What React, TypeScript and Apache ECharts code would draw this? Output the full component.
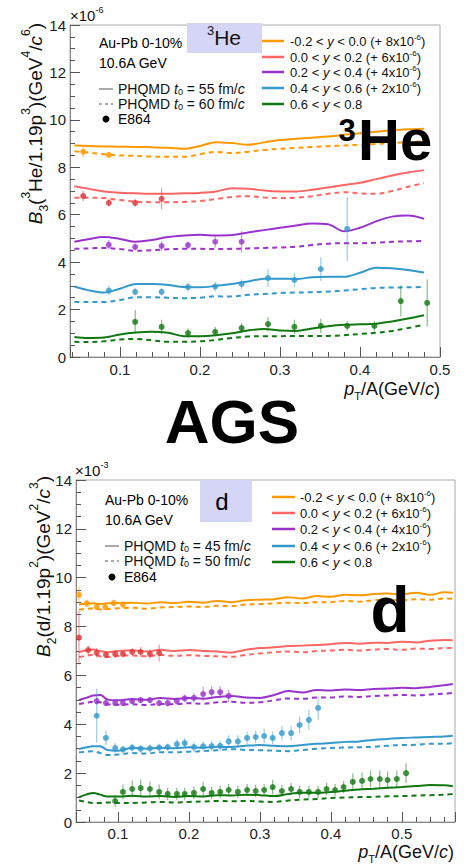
import React, { useEffect, useRef } from "react";
import * as echarts from "echarts";

const FONT = "'Liberation Sans', Arial, Helvetica, sans-serif";
const LINE_COLORS = ["#ff9900", "#ff6666", "#9933cc", "#3399cc", "#117711"];
const DATA_COLORS = ["#ff9900", "#dd3333", "#9933cc", "#3399cc", "#117711"];
const RAP_LABELS = ["-0.2 < ", "0.0 < ", "0.2 < ", "0.4 < ", "0.6 < "];
const RAP_UPPER = [" < 0.0 (+ 8x10", " < 0.2 (+ 6x10", " < 0.4 (+ 4x10", " < 0.6 (+ 2x10", " < 0.8"];
const Y_TICKS_MAX = 14;

// ---------- Top panel: 3He (B3, x10^-6) ----------
const HE_MODEL_X = [0.043, 0.06, 0.08, 0.1, 0.12, 0.14, 0.16, 0.18, 0.2, 0.22, 0.24, 0.26, 0.28, 0.3, 0.32, 0.34, 0.36, 0.38, 0.4, 0.42, 0.44, 0.46, 0.48];
const HE_SOLID_ORANGE = [8.92, 8.9, 8.88, 8.87, 8.86, 8.84, 8.82, 8.78, 8.9, 9.06, 9.02, 8.95, 9.05, 9.15, 9.2, 9.25, 9.3, 9.37, 9.44, 9.5, 9.55, 9.6, 9.63];
const HE_DASH_ORANGE = [8.68, 8.62, 8.55, 8.5, 8.48, 8.45, 8.44, 8.44, 8.55, 8.65, 8.6, 8.66, 8.73, 8.78, 8.82, 8.86, 8.89, 8.92, 8.95, 8.98, 9.02, 9.06, 9.1];
const HE_SOLID_RED = [7.2, 7.1, 6.98, 6.93, 6.9, 6.88, 6.88, 6.9, 6.92, 6.98, 7.12, 7.1, 7.02, 6.98, 6.98, 7.05, 7.15, 7.25, 7.35, 7.5, 7.65, 7.78, 7.88];
const HE_DASH_RED = [6.72, 6.72, 6.7, 6.62, 6.55, 6.53, 6.53, 6.54, 6.58, 6.66, 6.75, 6.78, 6.73, 6.7, 6.72, 6.78, 6.88, 6.95, 6.9, 6.88, 7.0, 7.18, 7.33];
const HE_SOLID_PURPLE = [4.86, 4.97, 5.06, 4.98, 4.86, 4.93, 5.06, 5.12, 5.15, 5.12, 5.14, 5.25, 5.35, 5.45, 5.55, 5.63, 5.6, 5.3, 5.45, 5.72, 5.92, 5.97, 5.83];
const HE_DASH_PURPLE = [4.56, 4.58, 4.6, 4.55, 4.48, 4.5, 4.54, 4.56, 4.56, 4.55, 4.56, 4.58, 4.6, 4.62, 4.65, 4.72, 4.78, 4.8, 4.8, 4.82, 4.86, 4.88, 4.89];
const HE_SOLID_BLUE = [2.97, 2.82, 2.72, 2.88, 3.08, 3.08, 3.04, 2.95, 2.94, 3.0, 3.08, 3.18, 3.3, 3.3, 3.29, 3.36, 3.38, 3.38, 3.55, 3.76, 3.74, 3.67, 3.56];
const HE_DASH_BLUE = [2.32, 2.32, 2.32, 2.4, 2.52, 2.52, 2.5, 2.48, 2.5, 2.56, 2.55, 2.62, 2.66, 2.7, 2.72, 2.73, 2.76, 2.8, 2.86, 2.91, 2.93, 2.94, 2.95];
const HE_SOLID_GREEN = [0.84, 0.8, 0.82, 0.95, 1.03, 1.06, 1.02, 0.88, 0.88, 0.92, 1.0, 1.12, 1.18, 1.12, 1.1, 1.2, 1.3, 1.36, 1.38, 1.4, 1.5, 1.62, 1.76];
const HE_DASH_GREEN = [0.64, 0.63, 0.66, 0.74, 0.76, 0.7, 0.64, 0.64, 0.66, 0.72, 0.8, 0.86, 0.88, 0.88, 0.89, 0.89, 0.89, 0.92, 0.97, 1.02, 1.1, 1.22, 1.36];

const HE_ORANGE_X = [0.054, 0.086];
const HE_ORANGE_Y = [8.65, 8.52];
const HE_ORANGE_ERR = [0.25, 0.1];
const HE_RED_X = [0.054, 0.086, 0.119, 0.152];
const HE_RED_Y = [6.79, 6.5, 6.5, 6.67];
const HE_RED_ERR = [0.22, 0.15, 0.15, 0.45];
const HE_PURPLE_X = [0.086, 0.119, 0.152, 0.185, 0.219, 0.252];
const HE_PURPLE_Y = [4.73, 4.64, 4.68, 4.72, 4.86, 4.86];
const HE_PURPLE_ERR = [0.2, 0.15, 0.2, 0.15, 0.25, 0.45];
const HE_BLUE_X = [0.086, 0.119, 0.152, 0.185, 0.219, 0.252, 0.285, 0.318, 0.351, 0.384];
const HE_BLUE_Y = [2.8, 2.75, 2.75, 2.95, 2.97, 3.08, 3.33, 3.25, 3.71, 5.4];
const HE_BLUE_ERR = [0.2, 0.15, 0.15, 0.2, 0.2, 0.2, 0.38, 0.3, 0.5, 1.35];
const HE_GREEN_X = [0.119, 0.152, 0.185, 0.219, 0.252, 0.285, 0.318, 0.351, 0.384, 0.418, 0.451, 0.484];
const HE_GREEN_Y = [1.48, 1.27, 1.01, 1.06, 1.22, 1.39, 1.27, 1.31, 1.31, 1.31, 2.36, 2.28];
const HE_GREEN_ERR = [0.5, 0.3, 0.2, 0.2, 0.2, 0.3, 0.3, 0.3, 0.2, 0.2, 0.65, 1.0];

// ---------- Bottom panel: d (B2, x10^-3) ----------
const D_MODEL_X = [0.045, 0.055, 0.065, 0.075, 0.085, 0.1, 0.12, 0.14, 0.16, 0.18, 0.2, 0.22, 0.24, 0.26, 0.28, 0.3, 0.32, 0.34, 0.36, 0.38, 0.4, 0.42, 0.44, 0.46, 0.48, 0.5, 0.52, 0.54, 0.56, 0.572];
const D_SOLID_ORANGE = [8.9, 8.93, 8.95, 8.92, 8.95, 8.96, 8.98, 8.94, 9.0, 8.96, 9.02, 8.98, 9.05, 9.0, 9.08, 9.1, 9.12, 9.2, 9.15, 9.25, 9.22, 9.3, 9.28, 9.33, 9.35, 9.32, 9.38, 9.3, 9.4, 9.38];
const D_DASH_ORANGE = [8.7, 8.72, 8.75, 8.7, 8.72, 8.75, 8.77, 8.73, 8.78, 8.8, 8.82, 8.8, 8.85, 8.84, 8.9, 8.92, 8.95, 8.98, 8.96, 9.0, 9.0, 9.05, 9.02, 9.08, 9.1, 9.07, 9.12, 9.1, 9.15, 9.14];
const D_SOLID_RED = [6.96, 7.02, 7.06, 7.0, 6.95, 7.0, 7.03, 6.98, 7.05, 7.0, 7.04, 7.0, 6.98, 6.94, 7.05, 7.12, 7.15, 7.2, 7.22, 7.25, 7.28, 7.33, 7.3, 7.34, 7.33, 7.38, 7.35, 7.42, 7.45, 7.44];
const D_DASH_RED = [6.75, 6.8, 6.85, 6.78, 6.75, 6.8, 6.82, 6.78, 6.84, 6.8, 6.83, 6.8, 6.78, 6.76, 6.84, 6.9, 6.95, 6.98, 6.95, 7.0, 7.02, 7.05, 7.02, 7.06, 7.08, 7.05, 7.1, 7.08, 7.12, 7.12];
const D_SOLID_PURPLE = [5.0, 5.08, 5.18, 5.2, 5.02, 4.98, 5.03, 5.0, 5.08, 5.04, 5.08, 5.05, 5.12, 5.16, 5.1, 5.08, 5.2, 5.36, 5.3, 5.4, 5.38, 5.42, 5.4, 5.44, 5.46, 5.5, 5.48, 5.53, 5.6, 5.65];
const D_DASH_PURPLE = [4.83, 4.88, 4.92, 4.9, 4.82, 4.8, 4.82, 4.79, 4.83, 4.82, 4.86, 4.84, 4.9, 4.92, 4.88, 4.9, 4.98, 5.06, 5.04, 5.1, 5.1, 5.14, 5.12, 5.16, 5.18, 5.2, 5.18, 5.22, 5.25, 5.28];
const D_SOLID_BLUE = [2.99, 3.05, 3.1, 3.1, 2.95, 2.92, 3.03, 3.0, 3.04, 3.02, 3.06, 3.04, 3.08, 3.07, 3.12, 3.15, 3.12, 3.1, 3.15, 3.2, 3.23, 3.28, 3.3, 3.36, 3.4, 3.44, 3.46, 3.48, 3.5, 3.53];
const D_DASH_BLUE = [2.85, 2.88, 2.9, 2.82, 2.74, 2.76, 2.82, 2.8, 2.86, 2.85, 2.88, 2.9, 2.94, 2.98, 2.95, 2.94, 2.92, 2.9, 2.95, 3.0, 3.03, 3.05, 3.06, 3.08, 3.12, 3.15, 3.16, 3.2, 3.2, 3.23];
const D_SOLID_GREEN = [1.02, 1.12, 1.19, 1.12, 1.04, 1.04, 1.07, 1.04, 1.06, 1.02, 1.06, 1.04, 1.1, 1.08, 1.12, 1.1, 1.06, 1.15, 1.2, 1.2, 1.23, 1.28, 1.33, 1.36, 1.4, 1.43, 1.47, 1.51, 1.5, 1.46];
const D_DASH_GREEN = [0.88, 0.82, 0.78, 0.78, 0.8, 0.78, 0.78, 0.8, 0.82, 0.8, 0.82, 0.84, 0.86, 0.85, 0.86, 0.84, 0.82, 0.88, 0.92, 0.94, 0.98, 1.0, 1.02, 1.03, 1.05, 1.06, 1.08, 1.1, 1.12, 1.15];

const D_ORANGE_X = [0.045, 0.056, 0.07, 0.082, 0.094, 0.107];
const D_ORANGE_Y = [9.3, 8.95, 8.8, 8.8, 8.96, 8.9];
const D_ORANGE_ERR = [0.35, 0.15, 0.12, 0.12, 0.15, 0.15];
const D_RED_X = [0.045, 0.058, 0.07, 0.083, 0.096, 0.107, 0.12, 0.132, 0.145, 0.158];
const D_RED_Y = [7.55, 7.04, 6.92, 6.84, 6.88, 6.88, 6.96, 6.96, 6.88, 6.92];
const D_RED_ERR = [1.1, 0.2, 0.2, 0.15, 0.15, 0.15, 0.15, 0.2, 0.2, 0.35];
const D_PURPLE_X = [0.07, 0.083, 0.096, 0.107, 0.12, 0.132, 0.145, 0.158, 0.17, 0.183, 0.194, 0.207, 0.22, 0.232, 0.244, 0.256];
const D_PURPLE_Y = [4.95, 4.87, 4.87, 4.87, 4.95, 4.99, 4.99, 4.87, 4.87, 4.95, 5.06, 5.08, 5.24, 5.32, 5.32, 5.16];
const D_PURPLE_ERR = [0.15, 0.12, 0.12, 0.12, 0.12, 0.12, 0.12, 0.12, 0.15, 0.15, 0.15, 0.2, 0.3, 0.25, 0.25, 0.25];
const D_BLUE_X = [0.07, 0.083, 0.096, 0.107, 0.12, 0.132, 0.145, 0.158, 0.17, 0.183, 0.194, 0.207, 0.22, 0.232, 0.244, 0.256, 0.269, 0.282, 0.294, 0.306, 0.318, 0.331, 0.344, 0.356, 0.369, 0.382];
const D_BLUE_Y = [4.35, 3.44, 3.03, 2.97, 3.05, 3.0, 3.02, 3.05, 3.07, 3.19, 3.23, 3.07, 3.1, 3.11, 3.12, 3.3, 3.3, 3.44, 3.48, 3.52, 3.44, 3.64, 3.64, 3.97, 4.18, 4.67];
const D_BLUE_ERR = [1.1, 0.3, 0.2, 0.15, 0.15, 0.15, 0.15, 0.15, 0.15, 0.2, 0.2, 0.2, 0.2, 0.2, 0.2, 0.25, 0.25, 0.25, 0.25, 0.3, 0.25, 0.3, 0.3, 0.35, 0.4, 0.48];
const D_GREEN_X = [0.096, 0.107, 0.12, 0.132, 0.145, 0.158, 0.17, 0.183, 0.194, 0.207, 0.22, 0.232, 0.244, 0.256, 0.269, 0.282, 0.294, 0.306, 0.318, 0.331, 0.344, 0.356, 0.369, 0.382, 0.394, 0.406, 0.418, 0.431, 0.444, 0.456, 0.469, 0.48, 0.493, 0.506];
const D_GREEN_Y = [0.86, 1.23, 1.35, 1.39, 1.35, 1.23, 1.15, 1.15, 1.15, 1.19, 1.35, 1.19, 1.23, 1.31, 1.23, 1.31, 1.27, 1.31, 1.43, 1.27, 1.35, 1.23, 1.23, 1.23, 1.35, 1.31, 1.43, 1.64, 1.68, 1.76, 1.76, 1.72, 1.76, 2.0];
const D_GREEN_ERR = [0.25, 0.3, 0.35, 0.35, 0.3, 0.3, 0.25, 0.25, 0.25, 0.25, 0.3, 0.25, 0.25, 0.25, 0.25, 0.25, 0.25, 0.25, 0.3, 0.25, 0.25, 0.25, 0.25, 0.25, 0.25, 0.25, 0.25, 0.35, 0.35, 0.35, 0.35, 0.35, 0.35, 0.4];

const HE_SOLID = [HE_SOLID_ORANGE, HE_SOLID_RED, HE_SOLID_PURPLE, HE_SOLID_BLUE, HE_SOLID_GREEN];
const HE_DASH = [HE_DASH_ORANGE, HE_DASH_RED, HE_DASH_PURPLE, HE_DASH_BLUE, HE_DASH_GREEN];
const HE_PTS = [
  [HE_ORANGE_X, HE_ORANGE_Y, HE_ORANGE_ERR],
  [HE_RED_X, HE_RED_Y, HE_RED_ERR],
  [HE_PURPLE_X, HE_PURPLE_Y, HE_PURPLE_ERR],
  [HE_BLUE_X, HE_BLUE_Y, HE_BLUE_ERR],
  [HE_GREEN_X, HE_GREEN_Y, HE_GREEN_ERR],
];
const D_SOLID = [D_SOLID_ORANGE, D_SOLID_RED, D_SOLID_PURPLE, D_SOLID_BLUE, D_SOLID_GREEN];
const D_DASH = [D_DASH_ORANGE, D_DASH_RED, D_DASH_PURPLE, D_DASH_BLUE, D_DASH_GREEN];
const D_PTS = [
  [D_ORANGE_X, D_ORANGE_Y, D_ORANGE_ERR],
  [D_RED_X, D_RED_Y, D_RED_ERR],
  [D_PURPLE_X, D_PURPLE_Y, D_PURPLE_ERR],
  [D_BLUE_X, D_BLUE_Y, D_BLUE_ERR],
  [D_GREEN_X, D_GREEN_Y, D_GREEN_ERR],
];

function richStyles(F: number, lhFactor = 1.6, color = "#111") {
  const lh = Math.round(F * lhFactor);
  const s = Math.round(F * 0.62);
  return {
    n: { fontSize: F, fontFamily: FONT, fill: color, color, lineHeight: lh },
    i: { fontSize: F, fontFamily: FONT, fontStyle: "italic", fill: color, color, lineHeight: lh },
    sup: { fontSize: s, fontFamily: FONT, fill: color, color, verticalAlign: "top", lineHeight: s + 1 },
    sub: { fontSize: s, fontFamily: FONT, fill: color, color, verticalAlign: "bottom", lineHeight: s + 1 },
  };
}

function rtext(x: number, y: number, text: string, F: number, align = "left", extra: any = {}, lhFactor = 1.6) {
  return {
    type: "text",
    x,
    y,
    z: 100,
    ...extra,
    style: { text, rich: richStyles(F, lhFactor), align, verticalAlign: "middle", fill: "#111" },
  };
}

function plainText(x: number, y: number, text: string, F: number, weight = "normal", align = "left", vAlign = "middle", lineHeight?: number) {
  const style: any = { text, fontSize: F, fontFamily: FONT, fontWeight: weight, fill: "#000", align, verticalAlign: vAlign };
  if (lineHeight) style.lineHeight = lineHeight;
  return { type: "text", x, y, z: 100, style };
}

function makeAxes(grid: number, xmin: number, xmax: number, labelMargin: number) {
  const tickColor = "#555";
  const xAxis = {
    gridIndex: grid,
    type: "value",
    min: xmin,
    max: xmax,
    axisLine: { show: true, lineStyle: { color: "#888", width: 1 } },
    axisTick: { show: true, inside: true, length: 10, lineStyle: { color: tickColor } },
    minorTick: { show: true, splitNumber: 5, length: 5, lineStyle: { color: tickColor } },
    splitLine: { show: false },
    axisLabel: {
      fontSize: 15,
      fontFamily: FONT,
      color: "#222",
      margin: labelMargin,
      formatter: (v: number) => (Math.abs(v * 10 - Math.round(v * 10)) < 1e-6 ? v.toFixed(1) : ""),
    },
  };
  const yAxis = {
    gridIndex: grid,
    type: "value",
    min: 0,
    max: Y_TICKS_MAX,
    interval: 2,
    axisLine: { show: true, lineStyle: { color: "#888", width: 1 } },
    axisTick: { show: true, inside: true, length: 10, lineStyle: { color: tickColor } },
    minorTick: { show: true, splitNumber: 4, length: 5, lineStyle: { color: tickColor } },
    splitLine: { show: false },
    axisLabel: { fontSize: 15, fontFamily: FONT, color: "#222", margin: 4 },
  };
  return { xAxis, yAxis };
}

function panelSeries(idx: number, modelX: number[], solid: number[][], dash: number[][], pts: number[][][]) {
  const series: any[] = [];
  for (let k = 0; k < 5; k++) {
    series.push({
      type: "line",
      xAxisIndex: idx,
      yAxisIndex: idx,
      data: modelX.map((x, i) => [x, solid[k][i]]),
      showSymbol: false,
      smooth: 0.35,
      lineStyle: { color: LINE_COLORS[k], width: 2 },
      z: 2,
    });
    series.push({
      type: "line",
      xAxisIndex: idx,
      yAxisIndex: idx,
      data: modelX.map((x, i) => [x, dash[k][i]]),
      showSymbol: false,
      smooth: 0.35,
      lineStyle: { color: LINE_COLORS[k], width: 2, type: [5, 4] },
      z: 2,
    });
    const [px, py, pe] = pts[k];
    series.push({
      type: "custom",
      xAxisIndex: idx,
      yAxisIndex: idx,
      data: px.map((x, i) => [x, py[i] - pe[i], py[i] + pe[i]]),
      encode: { x: 0, y: [1, 2] },
      renderItem: (_p: any, api: any) => {
        const a = api.coord([api.value(0), api.value(1)]);
        const b = api.coord([api.value(0), api.value(2)]);
        return {
          type: "line",
          shape: { x1: a[0], y1: a[1], x2: b[0], y2: b[1] },
          style: { stroke: DATA_COLORS[k], lineWidth: 1.2, opacity: 0.5 },
        };
      },
      z: 3,
    });
    series.push({
      type: "scatter",
      xAxisIndex: idx,
      yAxisIndex: idx,
      data: px.map((x, i) => [x, py[i]]),
      symbol: "circle",
      symbolSize: 6,
      itemStyle: { color: DATA_COLORS[k] },
      z: 4,
    });
  }
  return series;
}

function legendBlock(lx1: number, lx2: number, tx: number, ys: number[], F: number) {
  const els: any[] = [];
  for (let k = 0; k < 5; k++) {
    els.push({
      type: "line",
      z: 100,
      shape: { x1: lx1, y1: ys[k], x2: lx2, y2: ys[k] },
      style: { stroke: LINE_COLORS[k], lineWidth: 2.5 },
    });
    const txt = k < 4
      ? `{n|${RAP_LABELS[k]}}{i|y}{n|${RAP_UPPER[k]}}{sup|-6}{n|)}`
      : `{n|${RAP_LABELS[k]}}{i|y}{n|${RAP_UPPER[k]}}`;
    els.push(rtext(tx, ys[k], txt, F, "left", {}, 1.2));
  }
  return els;
}

function leftBlock(x: number, yAu: number, yLines: number[], t1: string, t2: string, F: number) {
  const els: any[] = [];
  els.push(plainText(x, yAu, "Au-Pb 0-10%", F));
  els.push(plainText(x, yAu + 20, "10.6A GeV", F));
  els.push({ type: "line", z: 100, shape: { x1: x, y1: yLines[0], x2: x + 14, y2: yLines[0] }, style: { stroke: "#555", lineWidth: 1 } });
  els.push(rtext(x + 19, yLines[0], `{n|PHQMD }{i|t}{sub|0}{n| = ${t1} fm/}{i|c}`, F, "left", {}, 1.0));
  els.push({ type: "line", z: 100, shape: { x1: x, y1: yLines[1], x2: x + 14, y2: yLines[1] }, style: { stroke: "#555", lineWidth: 1, lineDash: [3, 3] } });
  els.push(rtext(x + 19, yLines[1], `{n|PHQMD }{i|t}{sub|0}{n| = ${t2} fm/}{i|c}`, F, "left", {}, 1.0));
  els.push({ type: "circle", z: 100, shape: { cx: x + 7, cy: yLines[2], r: 3.5 }, style: { fill: "#000" } });
  els.push(plainText(x + 19, yLines[2], "E864", F));
  return els;
}

export default function App() {
  const ref = useRef<HTMLDivElement>(null);
  useEffect(() => {
    if (!ref.current) return;
    const chart = echarts.init(ref.current, undefined, { renderer: "svg" });
    const top = makeAxes(0, 0.0375, 0.5, 5);
    const bot = makeAxes(1, 0.0408, 0.575, 4);

    const graphic: any[] = [
      // exponents
      rtext(70, 15, "{n|×10}{sup|-6}", 15, "left", {}, 1.3),
      rtext(75, 470, "{n|×10}{sup|-3}", 15, "left", {}, 1.3),
      // y titles
      rtext(35, 23, "{i|B}{sub|3}{n|(}{sup|3}{n|He/1.19p}{sup|3}{n|)(GeV}{sup|4}{n|/}{i|c}{sup|6}{n|)}", 19, "right", { rotation: Math.PI / 2 }),
      rtext(43, 476, "{i|B}{sub|2}{n|(d/1.19p}{sup|2}{n|)(GeV}{sup|2}{n|/}{i|c}{sup|3}{n|)}", 19, "right", { rotation: Math.PI / 2 }),
      // x titles
      rtext(440, 389, "{i|p}{sub|T}{n|/A(GeV/}{i|c}{n|)}", 18, "right", {}, 1.4),
      rtext(454, 852, "{i|p}{sub|T}{n|/A(GeV/}{i|c}{n|)}", 18, "right", {}, 1.4),
      // label boxes
      { type: "rect", z: 90, shape: { x: 187, y: 23, width: 75, height: 30 }, style: { fill: "#d5d6f5" } },
      rtext(224, 37, "{sup|3}{n|He}", 21, "center", {}, 1.3),
      { type: "rect", z: 90, shape: { x: 200, y: 480, width: 52, height: 42 }, style: { fill: "#d5d6f5" } },
      plainText(222, 501, "d", 24, "normal", "center"),
      // big labels
      plainText(347, 116, "3", 31, "bold", "center", "top", 28),
      plainText(358, 161, "He", 58, "bold", "left", "bottom", 44),
      plainText(232, 421, "AGS", 62, "bold", "center"),
      plainText(390, 642, "d", 64, "bold", "center", "bottom"),
      ...leftBlock(99, 43, [89, 104, 119], "55", "60", 14),
      ...leftBlock(105, 500, [546, 561, 577], "45", "50", 14),
      ...legendBlock(262, 284, 290, [41, 57, 72, 88, 104], 13),
      ...legendBlock(272, 295, 300, [497, 513, 529, 546, 562], 13),
    ];

    chart.setOption({
      animation: false,
      backgroundColor: "#ffffff",
      grid: [
        { left: 70, top: 25, width: 370, height: 332, show: true, borderColor: "#aaa", borderWidth: 1, backgroundColor: "transparent" },
        { left: 76, top: 480, width: 379, height: 342, show: true, borderColor: "#aaa", borderWidth: 1, backgroundColor: "transparent" },
      ],
      xAxis: [top.xAxis, bot.xAxis],
      yAxis: [top.yAxis, bot.yAxis],
      series: [
        ...panelSeries(0, HE_MODEL_X, HE_SOLID, HE_DASH, HE_PTS),
        ...panelSeries(1, D_MODEL_X, D_SOLID, D_DASH, D_PTS),
      ],
      graphic,
    });
    return () => chart.dispose();
  }, []);
  return <div ref={ref} style={{ position: "fixed", left: 0, top: 0, width: 464, height: 867, background: "#fff" }} />;
}
